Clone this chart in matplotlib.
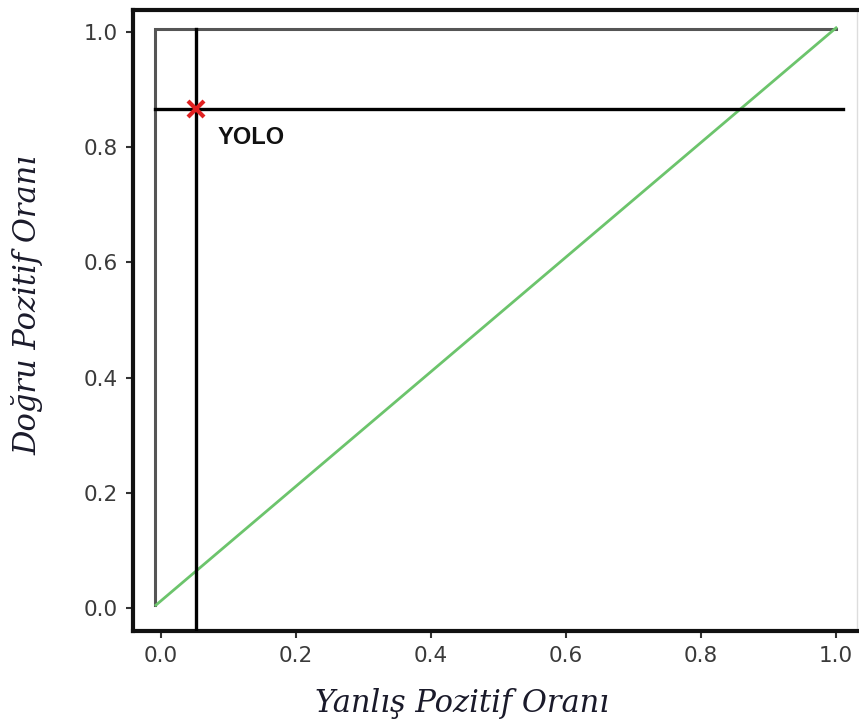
import matplotlib
matplotlib.use("Agg")
import matplotlib.pyplot as plt

# ROC curves
chance_fpr = [-0.007, 1.0]
chance_tpr = [0.005, 1.007]
ideal_fpr = [-0.008, -0.008, 1.0]
ideal_tpr = [0.005, 1.005, 1.005]

# YOLO operating point
yolo_fpr = 0.053
yolo_tpr = 0.866
yolo_label = "YOLO"

xticks = [0.0, 0.2, 0.4, 0.6, 0.8, 1.0]
yticks = [0.0, 0.2, 0.4, 0.6, 0.8, 1.0]

W, H = 859, 725
fig = plt.figure(figsize=(W / 100, H / 100), dpi=100)
ax = fig.add_axes([133 / W, (H - 631) / H, (857 - 133) / W, (631 - 10) / H])

ax.plot(ideal_fpr, ideal_tpr, color="#555555", lw=2.2, solid_joinstyle="miter", zorder=2)
ax.plot(chance_fpr, chance_tpr, color="#6cc46c", lw=2.0, zorder=3)

# crosshair through the operating point
ax.plot([ideal_fpr[0], 1.01], [yolo_tpr, yolo_tpr], color="black", lw=2.4, zorder=4)
ax.plot([yolo_fpr, yolo_fpr], [-0.04, ideal_tpr[1]], color="black", lw=2.4, zorder=4)
ax.plot([yolo_fpr], [yolo_tpr], marker="x", color="#e02020", ms=11, mew=3, zorder=5)
ax.text(yolo_fpr + 0.031, yolo_tpr - 0.05, yolo_label, fontsize=17, fontweight="bold",
        family="Liberation Sans", color="#111111", va="center", ha="left")

ax.set_xlim(-0.041, 1.031)
ax.set_ylim(-0.04, 1.038)
ax.set_xticks(xticks)
ax.set_yticks(yticks)
ax.set_xticklabels([f"{v:.1f}" for v in xticks])
ax.set_yticklabels([f"{v:.1f}" for v in yticks])

for side in ["left", "top", "bottom"]:
    ax.spines[side].set_linewidth(3)
    ax.spines[side].set_color("#111111")
ax.spines["right"].set_linewidth(1)
ax.spines["right"].set_color("#dddddd")

ax.tick_params(axis="both", length=5, width=1.5, color="#333333", labelcolor="#3a3a3a",
               labelsize=15.5, pad=6)
for lab in ax.get_xticklabels() + ax.get_yticklabels():
    lab.set_family("DejaVu Sans")

ax.set_xlabel("Yanlış Pozitif Oranı", fontsize=22, style="italic", family="DejaVu Serif",
              color="#1a1a2a")
ax.set_ylabel("Doğru Pozitif Oranı", fontsize=22, style="italic", family="DejaVu Serif",
              color="#1a1a2a")
ax.xaxis.set_label_coords(0.454, -0.092)
ax.yaxis.set_label_coords(-0.123, 0.525)

fig.savefig("out.png", dpi=100)
